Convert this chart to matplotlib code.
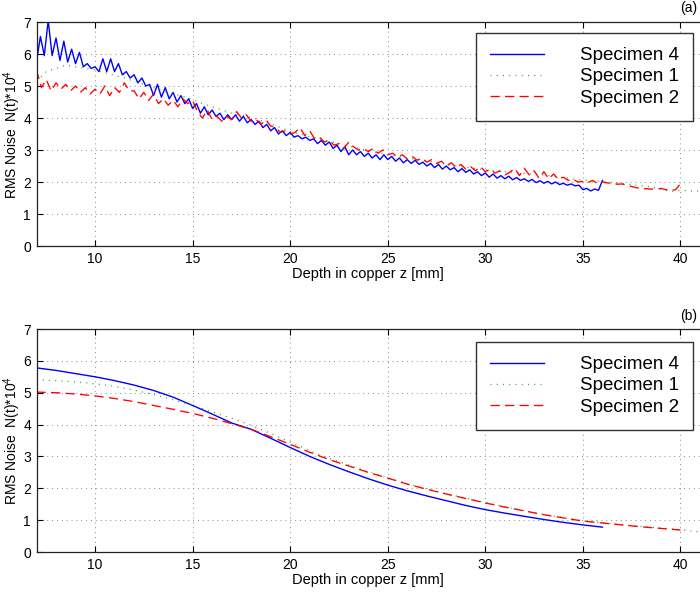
import numpy as np
import matplotlib
matplotlib.use("Agg")
import matplotlib.pyplot as plt

plt.rcParams['font.family'] = ['Liberation Sans', 'DejaVu Sans']
plt.rcParams['mathtext.fontset'] = 'custom'
plt.rcParams['mathtext.rm'] = 'Liberation Sans'
plt.rcParams['mathtext.it'] = 'Liberation Sans:italic'

# ---------------- data: panel (a), measured noisy curves ----------------
a_spec4_start, a_spec4_step = 7.0, 0.2
a_spec4 = [5.75, 6.55, 5.95, 7.05, 5.95, 6.50, 5.80, 6.40, 5.75, 6.15,
           5.70, 6.05, 5.60, 5.70, 5.55, 5.60, 5.45, 5.85, 5.45, 5.85,
           5.45, 5.70, 5.35, 5.45, 5.25, 5.35, 5.10, 5.25, 5.00, 5.05,
           4.70, 5.05, 4.65, 4.95, 4.60, 4.80, 4.50, 4.70, 4.45, 4.60,
           4.30, 4.45, 4.15, 4.35, 4.10, 4.25, 4.05, 4.15, 3.95, 4.10,
           3.95, 4.10, 3.90, 4.05, 3.85, 3.95, 3.80, 3.90, 3.70, 3.80,
           3.60, 3.70, 3.50, 3.60, 3.45, 3.55, 3.40, 3.45, 3.35, 3.40,
           3.30, 3.35, 3.20, 3.30, 3.15, 3.25, 3.05, 3.15, 2.95, 3.10,
           2.85, 3.00, 2.85, 2.95, 2.80, 2.90, 2.75, 2.85, 2.70, 2.85,
           2.70, 2.80, 2.65, 2.75, 2.60, 2.70, 2.58, 2.68, 2.55, 2.62,
           2.50, 2.58, 2.45, 2.55, 2.40, 2.50, 2.38, 2.45, 2.32, 2.42,
           2.30, 2.38, 2.25, 2.32, 2.20, 2.28, 2.15, 2.25, 2.12, 2.20,
           2.10, 2.18, 2.07, 2.14, 2.05, 2.10, 2.02, 2.08, 1.98, 2.04,
           1.96, 2.02, 1.94, 2.00, 1.92, 1.96, 1.90, 1.94, 1.88, 1.90,
           1.76, 1.80, 1.72, 1.78, 1.74, 2.05]

a_spec1_start, a_spec1_step = 7.0, 0.5
a_spec1 = [5.15, 5.45, 5.55, 5.65, 5.60, 5.55, 5.50, 5.42, 5.33, 5.25,
           5.15, 5.05, 4.95, 4.85, 4.75, 4.68, 4.58, 4.45, 4.35, 4.25,
           4.15, 4.10, 4.02, 3.92, 3.82, 3.70, 3.58, 3.50, 3.42, 3.35,
           3.28, 3.20, 3.12, 3.05, 2.98, 2.92, 2.86, 2.80, 2.75, 2.70,
           2.65, 2.60, 2.55, 2.50, 2.46, 2.42, 2.38, 2.35, 2.32, 2.30,
           2.27, 2.25, 2.22, 2.18, 2.14, 2.10, 2.06, 2.04, 2.02, 1.98,
           1.95, 1.92, 1.88, 1.85, 1.78, 1.70, 1.74, 1.72, 1.72]

a_spec2_start, a_spec2_step = 7.0, 0.25
a_spec2 = [5.50, 4.95, 5.20, 4.85, 5.10, 4.90, 5.05, 4.85, 5.00, 4.80,
           4.95, 4.75, 4.90, 4.75, 5.00, 4.70, 4.95, 4.80, 5.10, 4.85,
           4.85, 4.60, 4.80, 4.55, 4.75, 4.45, 4.60, 4.40, 4.55, 4.35,
           4.60, 4.45, 4.55, 4.20, 4.00, 4.25, 3.95, 4.05, 3.90, 4.05,
           3.95, 4.20, 4.00, 4.10, 3.90, 3.95, 3.80, 3.95, 3.75, 3.70,
           3.55, 3.60, 3.50, 3.55, 3.70, 3.45, 3.60, 3.35, 3.40, 3.25,
           3.30, 3.15, 3.20, 3.05, 3.25, 3.10, 3.00, 3.05, 2.95, 3.05,
           2.90, 3.00, 2.85, 2.90, 2.78, 2.85, 2.72, 2.80, 2.68, 2.75,
           2.62, 2.70, 2.58, 2.65, 2.50, 2.60, 2.45, 2.55, 2.40, 2.48,
           2.35, 2.48, 2.32, 2.40, 2.28, 2.35, 2.22, 2.30, 2.43, 2.20,
           2.43, 2.22, 2.35, 2.12, 2.32, 2.10, 2.25, 2.08, 2.15, 2.05,
           2.08, 2.00, 2.02, 1.98, 2.05, 1.95, 2.00, 1.97, 1.96, 1.93,
           1.94, 1.90, 1.86, 1.82, 1.80, 1.79, 1.78, 1.77, 1.80, 1.76,
           1.74, 1.76, 1.95]

# ---------------- data: panel (b), smoothed curves ----------------
b_spec4_start, b_spec4_step = 7.0, 1.0
b_spec4 = [5.78, 5.70, 5.60, 5.50, 5.38, 5.24, 5.07, 4.86, 4.60, 4.33,
           4.05, 3.85, 3.57, 3.28, 3.00, 2.75, 2.52, 2.30, 2.10, 1.92,
           1.76, 1.61, 1.46, 1.33, 1.22, 1.12, 1.02, 0.93, 0.85, 0.78]

b_spec1_start, b_spec1_step = 7.0, 1.0
b_spec1 = [5.40, 5.38, 5.34, 5.28, 5.20, 5.08, 4.94, 4.78, 4.60, 4.40,
           4.20, 3.98, 3.72, 3.45, 3.18, 2.94, 2.73, 2.52, 2.33, 2.14,
           1.98, 1.83, 1.69, 1.55, 1.42, 1.30, 1.18, 1.08, 0.98, 0.92,
           0.86, 0.80, 0.75, 0.70, 0.63]

b_spec2_start, b_spec2_step = 7.0, 1.0
b_spec2 = [5.02, 5.00, 4.96, 4.90, 4.82, 4.72, 4.60, 4.48, 4.35, 4.20,
           4.03, 3.85, 3.62, 3.38, 3.13, 2.90, 2.70, 2.50, 2.32, 2.13,
           1.97, 1.82, 1.68, 1.54, 1.41, 1.29, 1.17, 1.07, 0.97, 0.91,
           0.85, 0.79, 0.74, 0.69]

labels = ["Specimen 4", "Specimen 1", "Specimen 2"]
xticks = [10, 15, 20, 25, 30, 35, 40]
yticks = [0, 1, 2, 3, 4, 5, 6, 7]


def xs(start, step, vals):
    return start + step * np.arange(len(vals))


fig = plt.figure(figsize=(7.0, 5.92), dpi=100)
W, H = 700.0, 592.0
ax_a = fig.add_axes([36.5 / W, 1 - 246 / H, 1 - 36.5 / W, (246 - 22) / H])
ax_b = fig.add_axes([36.5 / W, 1 - 552 / H, 1 - 36.5 / W, (552 - 329) / H])

styles = [dict(color=(0, 0, 1), lw=1.0, linestyle='-'),
          dict(color=(0.15, 0.65, 0.15), lw=0.9, linestyle=(0, (0.8, 4.2))),
          dict(color=(1, 0, 0), lw=0.95, linestyle=(0, (7, 4)))]

series_a = [(a_spec4_start, a_spec4_step, a_spec4),
            (a_spec1_start, a_spec1_step, a_spec1),
            (a_spec2_start, a_spec2_step, a_spec2)]
series_b = [(b_spec4_start, b_spec4_step, b_spec4),
            (b_spec1_start, b_spec1_step, b_spec1),
            (b_spec2_start, b_spec2_step, b_spec2)]

legend_tops = [1 - 33 / H, 1 - 342 / H]
panel_tags = ['(a)', '(b)']
tag_y = [1 - 8 / H, 1 - 316 / H]

for ax, series, ltop, tag, ty in zip([ax_a, ax_b], [series_a, series_b],
                                     legend_tops, panel_tags, tag_y):
    for (s, st, v), lab, sty in zip(series, labels, styles):
        ax.plot(xs(s, st, v), v, label=lab, **sty)
    ax.set_xlim(7, 41)
    ax.set_ylim(0, 7)
    ax.set_xticks(xticks)
    ax.set_yticks(yticks)
    ax.grid(True, color='#8a8a8a', linestyle=(0, (1, 4)), linewidth=0.7)
    ax.tick_params(direction='in', length=4, width=0.8, labelsize=10,
                   top=True, right=False, colors='black', pad=4)
    for side in ['left', 'bottom', 'top']:
        ax.spines[side].set_linewidth(0.9)
        ax.spines[side].set_color('#222222')
    ax.spines['right'].set_visible(False)
    ax.set_xlabel('Depth in copper z [mm]', fontsize=10.5, labelpad=1)
    ax.set_ylabel(r'RMS Noise  N(t)*10$^4$', fontsize=10)
    ax.yaxis.set_label_coords(-13.5 / (W - 36.5), 0.5)
    leg = ax.legend(loc='upper right', bbox_to_anchor=(693 / W, ltop),
                    bbox_transform=fig.transFigure, fontsize=13.5,
                    handlelength=2.9, handletextpad=1.9, borderpad=0.75,
                    labelspacing=0.22, borderaxespad=0, fancybox=False,
                    framealpha=1)
    leg.get_frame().set_edgecolor('#333333')
    leg.get_frame().set_linewidth(1.0)
    fig.text(697 / W, ty, tag, ha='right', va='center', fontsize=10)

fig.savefig('out.png', dpi=100)
